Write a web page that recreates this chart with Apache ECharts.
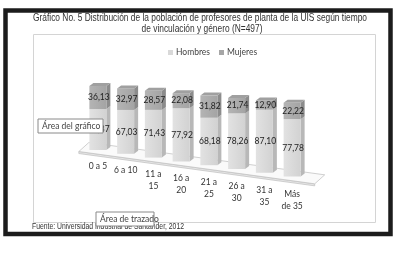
<!DOCTYPE html>
<html>
<head>
<meta charset="utf-8">
<script src="https://cdn.jsdelivr.net/npm/echarts@6/dist/echarts.min.js"></script>
<style>
  html, body { margin: 0; padding: 0; background: #fff; }
  #e_chart_1 { width: 399px; height: 254px; }
</style>
</head>
<body>
<div id="e_chart_1"></div>
<script>
var categories = ['0 a 5', '6 a 10', '11 a\n15', '16 a\n20', '21 a\n25', '26 a\n30', '31 a\n35', 'Más\nde 35'];
var hombres = [63.87, 67.03, 71.43, 77.92, 68.18, 78.26, 87.10, 77.78];
var mujeres = [36.13, 32.97, 28.57, 22.08, 31.82, 21.74, 12.90, 22.22];
var titleLines = [
    'Gráfico No. 5 Distribución de la población de profesores de planta de la UIS según tiempo',
    'de vinculación y género (N=497)'
];
var sourceText = 'Fuente: Universidad Industrial de Santander, 2012';

var dom = document.getElementById("e_chart_1");
var myChart = echarts.init(dom, null, { renderer: 'canvas' });

// fake perspective: floor and tops slide down a bit for each category
var BOT_SHIFT = 3.8;
var TOP_SHIFT = 2.4;
var FRONT_W = 17, SIDE_D = 4, SIDE_UP = 3;

// squeeze text so it looks like the narrow font of the original
var ctx = document.createElement('canvas').getContext('2d');
function squeeze(text, font, width) {
    ctx.font = font;
    return width / ctx.measureText(text).width;
}
var titleFont = '11px "Liberation Sans", Arial, sans-serif';
var srcFont = '8.5px "Liberation Sans", Arial, sans-serif';

function proj(api, i, v) {
    var p0 = api.coord([0, 0]);
    var p1 = api.coord([0, 100]);
    var step = api.size([1, 0])[0];
    var yb = p0[1] + i * BOT_SHIFT;
    var yt = p1[1] + i * TOP_SHIFT;
    return [p0[0] + i * step, yb + (yt - yb) * v / 100];
}

function fmt(v) {
    return v.toFixed(2).replace('.', ',');
}

function makeRender(colors, withTop, withCat) {
    return function (params, api) {
        var i = api.value(0);
        var v0 = api.value(1), v1 = api.value(2);
        var b = proj(api, i, v0), t = proj(api, i, v1);
        var cx = b[0] - 2;
        var xl = cx - FRONT_W / 2, xr = cx + FRONT_W / 2;
        var children = [
            { type: 'polygon', shape: { points: [[xr, t[1]], [xr + SIDE_D, t[1] - SIDE_UP], [xr + SIDE_D, b[1] - SIDE_UP], [xr, b[1]]] },
              style: { fill: colors.side } },
            { type: 'rect', shape: { x: xl, y: t[1], width: FRONT_W, height: b[1] - t[1] },
              style: { fill: new echarts.graphic.LinearGradient(0, 0, 1, 0, [
                  { offset: 0, color: colors.front0 }, { offset: 1, color: colors.front1 }]) } }
        ];
        if (withTop) {
            children.push({ type: 'polygon', shape: { points: [[xl, t[1]], [xr, t[1]], [xr + SIDE_D, t[1] - SIDE_UP], [xl + SIDE_D, t[1] - SIDE_UP]] },
                style: { fill: colors.top } });
        }
        children.push({ type: 'text', x: cx + 1, y: (b[1] + t[1]) / 2,
            style: { text: fmt(v1 - v0), fill: '#222', font: '8.5px Lato, "Open Sans", sans-serif', align: 'center', verticalAlign: 'middle' } });
        if (withCat) {
            children.push({ type: 'text', x: cx, y: b[1] + 10 + i * 0.3,
                style: { text: categories[i], fill: '#333', font: '8.5px Lato, "Open Sans", sans-serif', align: 'center', verticalAlign: 'top', lineHeight: 12 } });
        }
        return { type: 'group', children: children };
    };
}

function renderFloor(params, api) {
    var l = proj(api, -0.65, 0), r = proj(api, 7.85, 0);
    var back = [[l[0] + 7, l[1] - 5], [r[0] + 7, r[1] - 5]];
    var front = [[l[0] - 3, l[1] + 4], [r[0] - 3, r[1] + 4]];
    return { type: 'group', children: [
        { type: 'polygon', shape: { points: [front[0], front[1], [front[1][0], front[1][1] + 2], [front[0][0], front[0][1] + 2]] },
          style: { fill: '#e4e4e4', stroke: '#c4c4c4', lineWidth: 0.8 } },
        { type: 'polygon', shape: { points: [back[0], back[1], front[1], front[0]] },
          style: { fill: '#fafafa', stroke: '#c4c4c4', lineWidth: 0.8 } }
    ] };
}

var hData = [], mData = [];
for (var i = 0; i < categories.length; i++) {
    hData.push([i, 0, hombres[i]]);
    mData.push([i, hombres[i], hombres[i] + mujeres[i]]);
}

function tipBox(x, y, w, text) {
    return [
        { type: 'rect', z: 100, shape: { x: x, y: y, width: w, height: 14 },
          style: { fill: '#fff', stroke: '#8a8a8a', lineWidth: 1 } },
        { type: 'text', z: 101, x: x + 4, y: y + 7,
          style: { text: text, fill: '#444', font: '8.5px Lato, "Open Sans", sans-serif', verticalAlign: 'middle' } }
    ];
}

option = {
    animation: false,
    grid: { left: 86, right: 91, top: 86, bottom: 104 },
    xAxis: { type: 'category', data: categories, show: false },
    yAxis: { type: 'value', min: 0, max: 100, show: false },
    legend: {
        data: ['Hombres', 'Mujeres'],
        left: 163, top: 43,
        icon: 'rect', itemWidth: 5, itemHeight: 5, itemGap: 9,
        textStyle: { fontSize: 8.5, color: '#444', fontFamily: 'Lato, "Open Sans", sans-serif', padding: [0, 0, 0, -2] }
    },
    graphic: [
        { type: 'rect', shape: { x: 5.5, y: 10.5, width: 385, height: 223.5 },
          style: { fill: 'none', stroke: '#1c1c1c', lineWidth: 4.5 } },
        { type: 'rect', shape: { x: 33.5, y: 34.5, width: 342, height: 188 },
          style: { fill: 'none', stroke: '#d4d4d4', lineWidth: 1 } },
        { type: 'text', x: 200, y: 17.5, scaleX: squeeze(titleLines[0], titleFont, 334),
          style: { text: titleLines[0], font: titleFont, fill: '#333', align: 'center', verticalAlign: 'middle' } },
        { type: 'text', x: 202, y: 29, scaleX: squeeze(titleLines[0], titleFont, 334),
          style: { text: titleLines[1], font: titleFont, fill: '#333', align: 'center', verticalAlign: 'middle' } },
        { type: 'text', x: 32, y: 227, scaleX: squeeze(sourceText, srcFont, 152),
          style: { text: sourceText, font: srcFont, fill: '#333', verticalAlign: 'middle' } }
    ].concat(tipBox(38, 119, 65, 'Área del gráfico'), tipBox(96, 212, 58, 'Área de trazado')),
    series: [
        { type: 'custom', name: 'floor', renderItem: renderFloor, data: [[0, 0, 0]], silent: true, z: 1 },
        { type: 'custom', name: 'Hombres', itemStyle: { color: '#d9d9d9' }, z: 2,
          renderItem: makeRender({ front0: '#e2e2e2', front1: '#d2d2d2', side: '#b8b8b8' }, false, true),
          encode: { x: 0, y: [1, 2] }, data: hData },
        { type: 'custom', name: 'Mujeres', itemStyle: { color: '#a6a6a6' }, z: 3,
          renderItem: makeRender({ front0: '#b4b4b4', front1: '#a4a4a4', side: '#8c8c8c', top: '#a0a0a0' }, true, false),
          encode: { x: 0, y: [1, 2] }, data: mData }
    ]
};
if (option && typeof option === "object") {
    myChart.setOption(option, true);
}
</script>
</body>
</html>
